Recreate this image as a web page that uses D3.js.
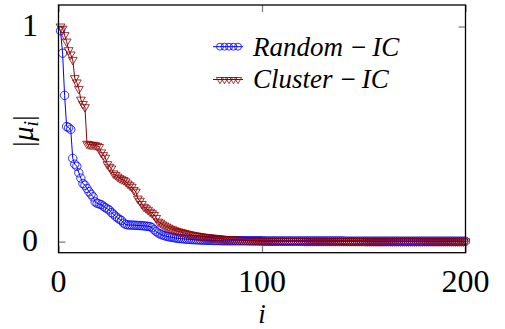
<!DOCTYPE html>
<html>
<head>
<meta charset="utf-8">
<script src="https://cdn.jsdelivr.net/npm/d3@7"></script>
<style>
  html, body { margin: 0; padding: 0; background: #fff; }
  svg { display: block; }
</style>
</head>
<body>
<svg id="chart" width="505" height="329"></svg>
<script>
// ---------- data ----------
const seriesNames = [["Random", "IC"], ["Cluster", "IC"]];
const xTicks = [0, 100, 200];
const yTicks = [0, 1];

const randomIC = [
  0.98, 0.876, 0.68, 0.535, 0.53, 0.522, 0.387, 0.36, 0.35, 0.32,
  0.295, 0.27, 0.262, 0.247, 0.232, 0.22, 0.208, 0.185, 0.178, 0.175,
  0.172, 0.165, 0.158, 0.152, 0.147, 0.135, 0.128, 0.118, 0.11, 0.104,
  0.098, 0.086, 0.08, 0.078, 0.077, 0.077, 0.076, 0.076, 0.075, 0.075,
  0.074, 0.073, 0.072, 0.071, 0.07, 0.065, 0.055, 0.047, 0.04, 0.035,
  0.031, 0.028, 0.025, 0.023, 0.021, 0.02, 0.018, 0.016, 0.015, 0.014,
  0.013, 0.012, 0.011, 0.011, 0.01, 0.009, 0.009, 0.008, 0.008, 0.007,
  0.007, 0.007, 0.006, 0.006, 0.006, 0.005, 0.005, 0.005, 0.005, 0.004,
  0.004, 0.004, 0.004, 0.004, 0.004, 0.004, 0.004, 0.004, 0.004, 0.004,
  0.004, 0.004, 0.004, 0.004, 0.004, 0.004, 0.004, 0.004, 0.004, 0.004,
  0.003, 0.003, 0.003, 0.003, 0.003, 0.003, 0.003, 0.003, 0.003, 0.003,
  0.003, 0.003, 0.003, 0.003, 0.003, 0.003, 0.003, 0.003, 0.003, 0.003,
  0.003, 0.003, 0.003, 0.003, 0.003, 0.003, 0.003, 0.003, 0.003, 0.003,
  0.003, 0.003, 0.003, 0.003, 0.003, 0.003, 0.003, 0.003, 0.003, 0.003,
  0.002, 0.002, 0.002, 0.002, 0.002, 0.002, 0.002, 0.002, 0.002, 0.002,
  0.002, 0.002, 0.002, 0.002, 0.002, 0.002, 0.002, 0.002, 0.002, 0.002,
  0.002, 0.002, 0.002, 0.002, 0.002, 0.002, 0.002, 0.002, 0.002, 0.002,
  0.002, 0.002, 0.002, 0.002, 0.002, 0.002, 0.002, 0.002, 0.002, 0.002,
  0.002, 0.002, 0.002, 0.002, 0.002, 0.002, 0.002, 0.002, 0.002, 0.002,
  0.002, 0.002, 0.002, 0.002, 0.002, 0.002, 0.002, 0.002, 0.002, 0.002
];

const clusterIC = [
  1.0, 0.99, 0.96, 0.93, 0.89, 0.87, 0.845, 0.76, 0.74, 0.71,
  0.66, 0.64, 0.625, 0.455, 0.452, 0.45, 0.45, 0.448, 0.445, 0.44,
  0.415, 0.402, 0.39, 0.36, 0.348, 0.34, 0.317, 0.31, 0.302, 0.295,
  0.29, 0.286, 0.28, 0.27, 0.262, 0.255, 0.24, 0.232, 0.2, 0.19,
  0.175, 0.162, 0.155, 0.148, 0.139, 0.132, 0.124, 0.11, 0.093, 0.088,
  0.08, 0.075, 0.07, 0.065, 0.06, 0.057, 0.053, 0.05, 0.047, 0.045,
  0.042, 0.04, 0.037, 0.035, 0.033, 0.031, 0.029, 0.028, 0.026, 0.025,
  0.023, 0.022, 0.021, 0.02, 0.019, 0.018, 0.017, 0.016, 0.015, 0.014,
  0.013, 0.012, 0.012, 0.011, 0.011, 0.01, 0.01, 0.009, 0.009, 0.008,
  0.008, 0.007, 0.007, 0.006, 0.006, 0.005, 0.005, 0.005, 0.004, 0.004,
  0.003, 0.003, 0.003, 0.003, 0.003, 0.003, 0.003, 0.003, 0.003, 0.003,
  0.003, 0.003, 0.003, 0.003, 0.003, 0.003, 0.003, 0.003, 0.003, 0.003,
  0.002, 0.002, 0.002, 0.002, 0.002, 0.002, 0.002, 0.002, 0.002, 0.002,
  0.002, 0.002, 0.002, 0.002, 0.002, 0.002, 0.002, 0.002, 0.002, 0.002,
  0.002, 0.002, 0.002, 0.002, 0.002, 0.002, 0.002, 0.002, 0.002, 0.002,
  0.001, 0.001, 0.001, 0.001, 0.001, 0.001, 0.001, 0.001, 0.001, 0.001,
  0.001, 0.001, 0.001, 0.001, 0.001, 0.001, 0.001, 0.001, 0.001, 0.001,
  0.001, 0.001, 0.001, 0.001, 0.001, 0.001, 0.001, 0.001, 0.001, 0.001,
  0.001, 0.001, 0.001, 0.001, 0.001, 0.001, 0.001, 0.001, 0.001, 0.001,
  0.001, 0.001, 0.001, 0.001, 0.001, 0.001, 0.001, 0.001, 0.001, 0.001
];

// ---------- layout ----------
const svg = d3.select("#chart");
const L = 58.5, R = 465.5, T = 5, B = 252.7;
const x = d3.scaleLinear().domain([0, 200]).range([L, R]);
const y = d3.scaleLinear().domain([-0.0515, 1.1]).range([B, T]);

const FONT = '"Liberation Serif"';
const tickColor = "#808080";
const blue = "#0000ff";
const red = "#8b0000";

// ticks (inward, mirrored)
const xAxisB = d3.axisBottom(x).tickValues(xTicks).tickSize(-7).tickFormat("");
const xAxisT = d3.axisTop(x).tickValues(xTicks).tickSize(-7).tickFormat("");
const yAxisL = d3.axisLeft(y).tickValues(yTicks).tickSize(-7).tickFormat("");
const yAxisR = d3.axisRight(y).tickValues(yTicks).tickSize(-7).tickFormat("");

function styleAxis(g) {
  g.select(".domain").remove();
  g.selectAll(".tick line").attr("stroke", tickColor).attr("stroke-width", 1.3);
}
svg.append("g").attr("transform", `translate(0,${B})`).call(xAxisB).call(styleAxis);
svg.append("g").attr("transform", `translate(0,${T})`).call(xAxisT).call(styleAxis);
svg.append("g").attr("transform", `translate(${L},0)`).call(yAxisL).call(styleAxis);
svg.append("g").attr("transform", `translate(${R},0)`).call(yAxisR).call(styleAxis);

// tick labels
svg.append("g").selectAll("text").data(xTicks).join("text")
  .attr("x", d => x(d)).attr("y", 292)
  .attr("text-anchor", "middle")
  .style("font-family", FONT).style("font-size", "32px")
  .text(d => d);
svg.append("g").selectAll("text").data(yTicks).join("text")
  .attr("x", 38).attr("y", d => y(d) + 9)
  .attr("text-anchor", "end")
  .style("font-family", FONT).style("font-size", "32px")
  .text(d => d);

// axis titles
svg.append("text")
  .attr("x", x(100)).attr("y", 323)
  .attr("text-anchor", "middle")
  .style("font-family", FONT).style("font-style", "italic").style("font-size", "27px")
  .text("i");

const yl = svg.append("text")
  .attr("transform", "translate(33,131) rotate(-90)")
  .attr("text-anchor", "middle")
  .style("font-family", FONT).style("font-size", "29px");
yl.append("tspan").text("|");
yl.append("tspan").style("font-style", "italic").text("\u03bc");
yl.append("tspan").style("font-style", "italic").style("font-size", "20px").attr("dy", 5).text("i");
yl.append("tspan").attr("dy", -5).text("|");

// ---------- series ----------
const idx = d3.range(1, 201);
const line = d3.line().x(d => x(d[0])).y(d => y(d[1]));

const triPath = "M-4.4,-2.5L4.4,-2.5L0,5Z";

function drawSeries(vals, color, kind) {
  const pts = idx.map((i, k) => [i, vals[k]]);
  const g = svg.append("g");
  g.append("path").datum(pts).attr("d", line)
    .attr("fill", "none").attr("stroke", color).attr("stroke-width", 1);
  if (kind === "circle") {
    g.selectAll("circle").data(pts).join("circle")
      .attr("cx", d => x(d[0])).attr("cy", d => y(d[1])).attr("r", 4.2)
      .attr("fill", "none").attr("stroke", color).attr("stroke-width", 0.8);
  } else {
    g.selectAll("path.m").data(pts).join("path").attr("class", "m")
      .attr("d", triPath)
      .attr("transform", d => `translate(${x(d[0])},${y(d[1])})`)
      .attr("fill", "none").attr("stroke", color).attr("stroke-width", 0.8);
  }
}
drawSeries(randomIC, blue, "circle");
drawSeries(clusterIC, red, "tri");

// frame
svg.append("rect").attr("x", L).attr("y", T).attr("width", R - L).attr("height", B - T)
  .attr("fill", "none").attr("stroke", "#000").attr("stroke-width", 1.3);

// ---------- legend ----------
const legend = [
  { name: seriesNames[0], color: blue, kind: "circle", y: 46.7 },
  { name: seriesNames[1], color: red, kind: "tri", y: 79.5 }
];
const lg = svg.append("g");
const lx0 = 213, lx1 = 243;
const lmk = [220, 224.5, 229, 233.5, 238];
legend.forEach(it => {
  lg.append("line").attr("x1", lx0).attr("x2", lx1).attr("y1", it.y).attr("y2", it.y)
    .attr("stroke", it.color).attr("stroke-width", 1);
  lmk.forEach(mx => {
    if (it.kind === "circle") {
      lg.append("circle").attr("cx", mx).attr("cy", it.y).attr("r", 3.5)
        .attr("fill", "none").attr("stroke", it.color).attr("stroke-width", 0.8);
    } else {
      lg.append("path").attr("d", "M-3.6,-2L3.6,-2L0,4.2Z")
        .attr("transform", `translate(${mx},${it.y})`)
        .attr("fill", "none").attr("stroke", it.color).attr("stroke-width", 0.8);
    }
  });
  const t = lg.append("text").attr("x", 253).attr("y", it.y + 8.8)
    .style("font-family", FONT).style("font-size", "27px");
  t.append("tspan").style("font-style", "italic").text(it.name[0]);
  t.append("tspan").attr("dx", 8).text("\u2212");
  t.append("tspan").attr("dx", 6).style("font-style", "italic").text(it.name[1]);
});
</script>
</body>
</html>
